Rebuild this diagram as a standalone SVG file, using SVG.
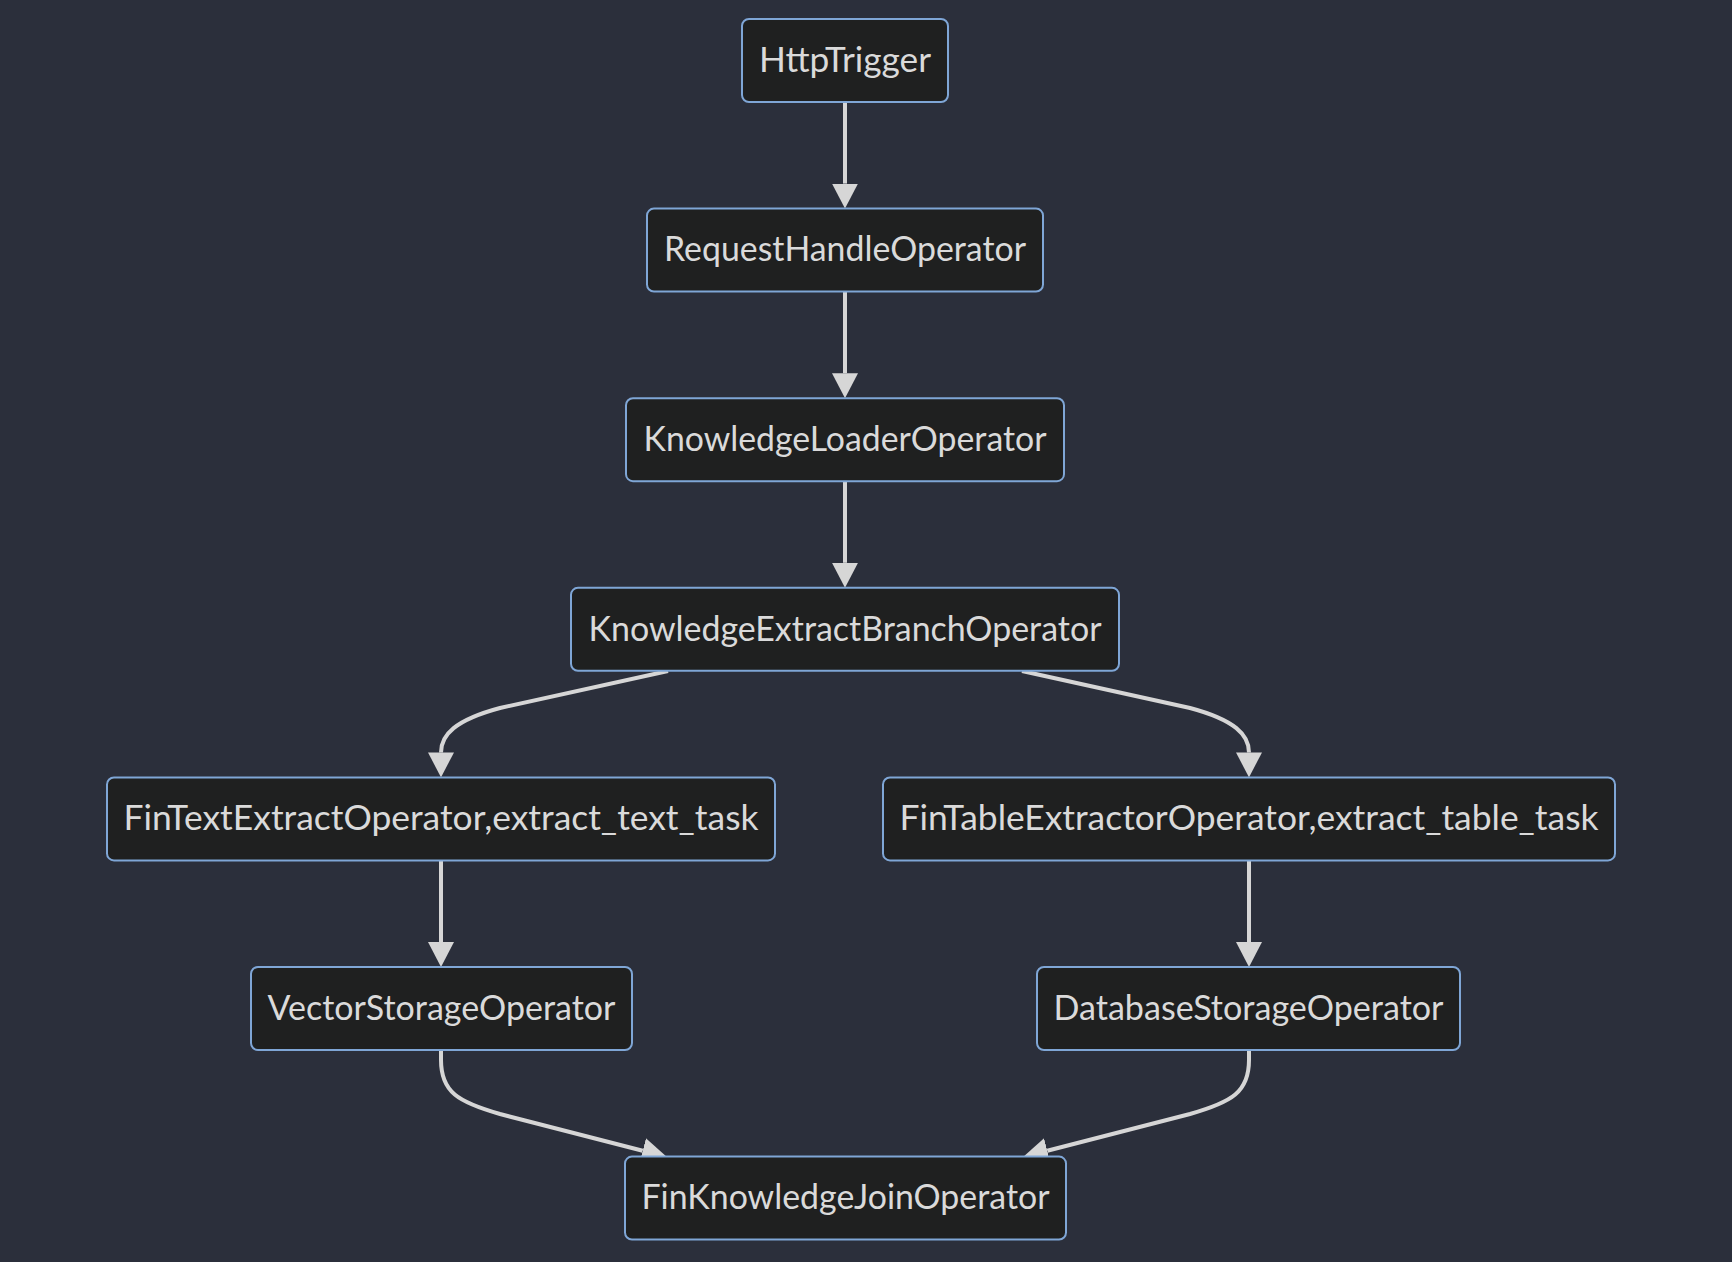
<svg xmlns="http://www.w3.org/2000/svg" width="1732" height="1262" viewBox="0 0 1732 1262">
<defs>
<style>
.node rect{fill:#1f2020;stroke:#7fa6d6;stroke-width:2}
.node text{fill:#dadada;font-family:"Lato","Open Sans","DejaVu Sans",sans-serif;font-size:34px;text-anchor:middle}
.edges path{fill:none;stroke:#d6d6d6;stroke-width:4}
</style>
<marker id="arrow" viewBox="0 0 25 26" markerWidth="25" markerHeight="26" markerUnits="userSpaceOnUse" refX="0" refY="13" orient="auto">
<path d="M0,0 L25,13 L0,26 z" fill="#d6d6d6"/>
</marker>
</defs>
<rect x="0" y="0" width="1732" height="1262" fill="#2b2f3b"/>
<g class="edges">
<path d="M845,102 L845,183.6" marker-end="url(#arrow)"/>
<path d="M845,291.6 L845,373.2" marker-end="url(#arrow)"/>
<path d="M845,481.2 L845,562.8" marker-end="url(#arrow)"/>
<path d="M668,671 L500,708 C455,720 441,735 441,752.4" marker-end="url(#arrow)"/>
<path d="M1022,671 L1190,708 C1235,720 1249,735 1249,752.4" marker-end="url(#arrow)"/>
<path d="M441,860.4 L441,942" marker-end="url(#arrow)"/>
<path d="M1249,860.4 L1249,942" marker-end="url(#arrow)"/>
<path d="M441,1050 L441,1060 C441,1092 458,1102 500,1114 L642.7,1150.8" marker-end="url(#arrow)"/>
<path d="M1249,1050 L1249,1060 C1249,1092 1232,1102 1190,1114 L1047.3,1150.8" marker-end="url(#arrow)"/>
</g>
<g id="HttpTrigger" class="node"><rect x="742" y="19" width="206" height="83" rx="7"/><text x="845" y="71.7" textLength="172" lengthAdjust="spacingAndGlyphs">HttpTrigger</text></g>
<g id="RequestHandleOperator" class="node"><rect x="647" y="208.6" width="396" height="83" rx="7"/><text x="845" y="261.3" textLength="362" lengthAdjust="spacingAndGlyphs">RequestHandleOperator</text></g>
<g id="KnowledgeLoaderOperator" class="node"><rect x="626" y="398.2" width="438" height="83" rx="7"/><text x="845" y="450.9" textLength="403" lengthAdjust="spacingAndGlyphs">KnowledgeLoaderOperator</text></g>
<g id="KnowledgeExtractBranchOperator" class="node"><rect x="571" y="587.8" width="548" height="83" rx="7"/><text x="845" y="640.5" textLength="513" lengthAdjust="spacingAndGlyphs">KnowledgeExtractBranchOperator</text></g>
<g id="FinTextExtractOperator" class="node"><rect x="107" y="777.4" width="668" height="83" rx="7"/><text x="441" y="830.1" textLength="635" lengthAdjust="spacingAndGlyphs">FinTextExtractOperator,extract_text_task</text></g>
<g id="FinTableExtractorOperator" class="node"><rect x="883" y="777.4" width="732" height="83" rx="7"/><text x="1249" y="830.1" textLength="699" lengthAdjust="spacingAndGlyphs">FinTableExtractorOperator,extract_table_task</text></g>
<g id="VectorStorageOperator" class="node"><rect x="251" y="967" width="381" height="83" rx="7"/><text x="441.5" y="1019.7" textLength="348" lengthAdjust="spacingAndGlyphs">VectorStorageOperator</text></g>
<g id="DatabaseStorageOperator" class="node"><rect x="1037" y="967" width="423" height="83" rx="7"/><text x="1248.5" y="1019.7" textLength="390" lengthAdjust="spacingAndGlyphs">DatabaseStorageOperator</text></g>
<g id="FinKnowledgeJoinOperator" class="node"><rect x="625" y="1156.6" width="441" height="83" rx="7"/><text x="845.5" y="1209.3" textLength="408" lengthAdjust="spacingAndGlyphs">FinKnowledgeJoinOperator</text></g>
</svg>
